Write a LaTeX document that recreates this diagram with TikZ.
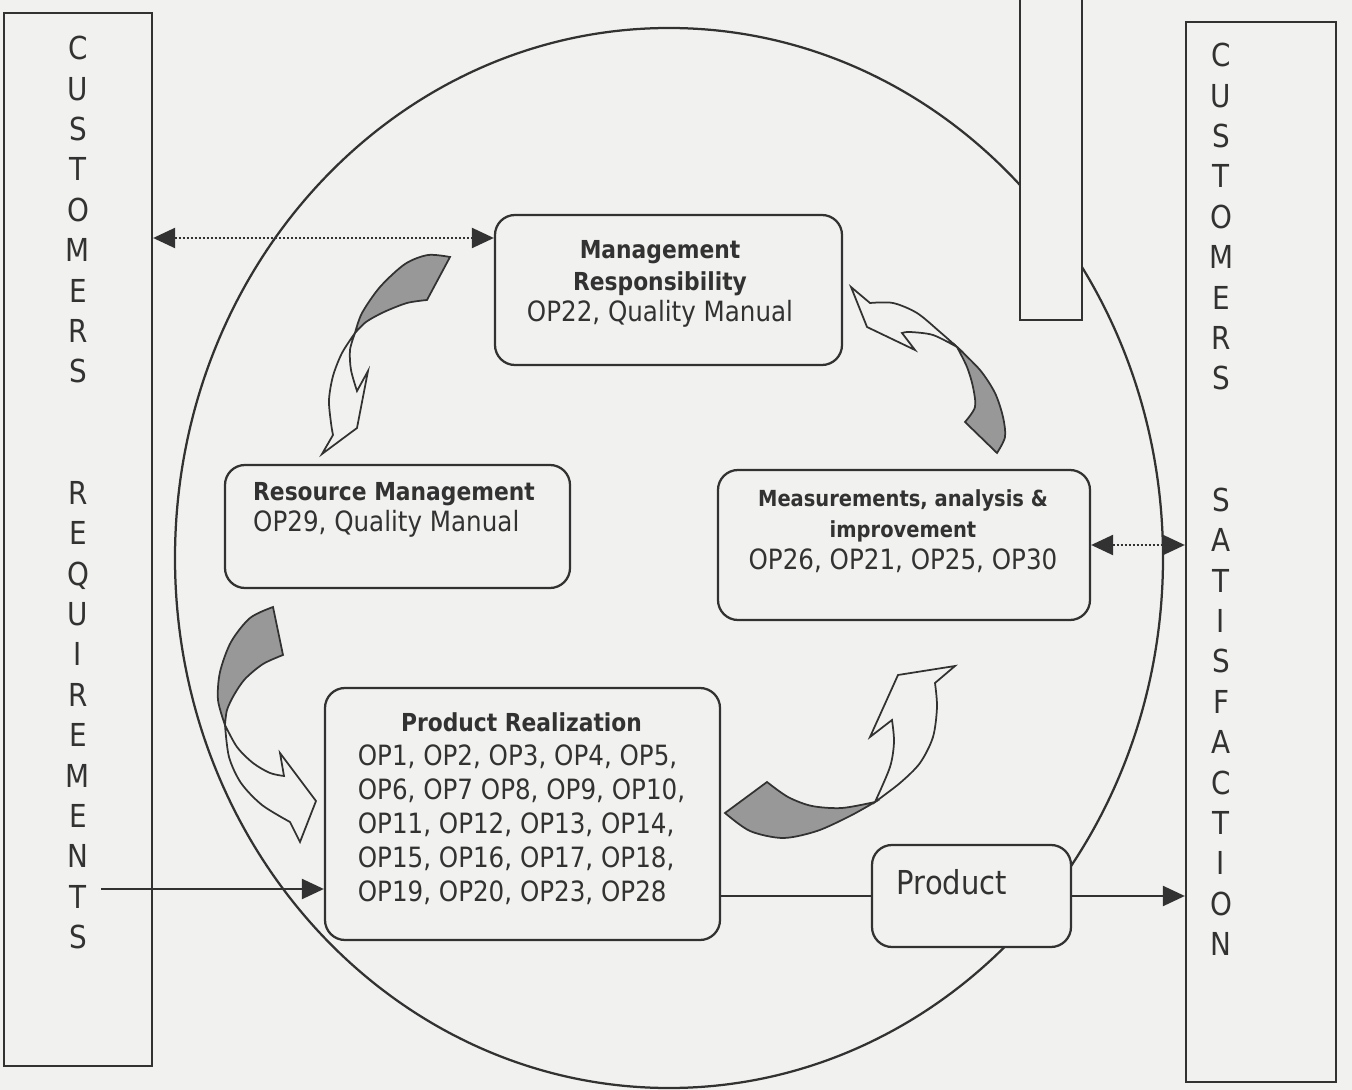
\documentclass[tikz,border=0pt]{standalone}
\usepackage{fontspec}
\setmainfont{DejaVu Sans}[FakeStretch=0.88]
\usetikzlibrary{arrows.meta,positioning}

\definecolor{paper}{RGB}{241,241,239}
\definecolor{ink}{RGB}{50,50,50}
\definecolor{shade}{RGB}{152,152,152}

\newcommand{\boxhead}[1]{{\fontsize{14.1}{17}\selectfont\bfseries #1}}
\newcommand{\smallhead}[1]{{\fontsize{12.6}{15}\selectfont\bfseries #1}}

\begin{document}
\begin{tikzpicture}[x=0.2mm, y=-0.2mm, line width=0.45mm, color=ink,
    procbox/.style={draw, fill=paper, rounded corners=4mm},
    sidebox/.style={draw, fill=paper},
    boxtext/.style={inner sep=0pt, font=\fontsize{15.9}{18}\selectfont},
    vletters/.style={align=center, inner sep=0pt, font=\fontsize{18}{23}\selectfont},
    bandtail/.style={draw, fill=shade, line width=0.35mm},
    bandhead/.style={draw, fill=paper, line width=0.35mm},
    flowarrow/.style={-{Triangle[length=4.4mm,width=4mm]}},
    linkarrow/.style={densely dotted, {Triangle[length=4.4mm,width=4mm]}-{Triangle[length=4.4mm,width=4mm]}}]

    % page
    \useasboundingbox (0,0) rectangle (1352,1090);
    \fill[paper] (0,0) rectangle (1352,1090);
    \clip (0,0) rectangle (1352,1090);

    % big cycle
    \draw (669,558) ellipse [x radius=494, y radius=530];

    % side columns
    \draw[fill=paper] (1020,-20) rectangle (1082,320);
    \node[sidebox, minimum width=29.6mm, minimum height=210.6mm] (req) at (78,539.5) {};
    \node[sidebox, minimum width=30mm, minimum height=212mm] (sat) at (1261,552) {};
    \node[vletters, anchor=north] (reqtxt) at (78,35)
        {C\\U\\S\\T\\O\\M\\E\\R\\S\\~\\~\\R\\E\\Q\\U\\I\\R\\E\\M\\E\\N\\T\\S};
    \node[vletters, anchor=north] (sattxt) at (1221,42)
        {C\\U\\S\\T\\O\\M\\E\\R\\S\\~\\~\\S\\A\\T\\I\\S\\F\\A\\C\\T\\I\\O\\N};

    % process boxes
    \node[procbox, minimum width=69.4mm, minimum height=30mm] (mgmt) at (668.5,290) {};
    \node[procbox, minimum width=69mm, minimum height=24.6mm] (res) at (397.5,526.5) {};
    \node[procbox, minimum width=74.4mm, minimum height=30mm] (meas) at (904,545) {};
    \node[procbox, minimum width=79mm, minimum height=50.4mm] (preal) at (522.5,814) {};
    \node[procbox, minimum width=39.8mm, minimum height=20.4mm] (prod) at (971.5,896) {};

    % box texts
    \node[boxtext, align=center] (mgmttxt) at (660,284)
        {\boxhead{Management}\\\boxhead{Responsibility}\\OP22, Quality Manual};
    \node[boxtext, align=left] (restxt) at (394,510)
        {\boxhead{Resource Management}\\OP29, Quality Manual};
    \node[boxtext, align=center] (meastxt) at (903,531)
        {\smallhead{Measurements, analysis \&}\\\smallhead{improvement}\\OP26, OP21, OP25, OP30};
    \node[boxtext, font=\fontsize{15.9}{19.3}\selectfont] (prealtxt) at (521.5,810)
        {\begin{tabular}{@{}l@{}}
         \multicolumn{1}{@{}c@{}}{\boxhead{Product Realization}}\\
         OP1, OP2, OP3, OP4, OP5,\\
         OP6, OP7 OP8, OP9, OP10,\\
         OP11, OP12, OP13, OP14,\\
         OP15, OP16, OP17, OP18,\\
         OP19, OP20, OP23, OP28
         \end{tabular}};
    \node[boxtext, font=\fontsize{18.75}{22}\selectfont] (prodtxt) at (952,882) {Product};

    % curved arrows of the cycle
    % management -> resources
    \filldraw[bandtail] plot[smooth] coordinates {(450,257) (428,255) (405,264) (380,287) (362,313) (355,333)}
        -- plot[smooth] coordinates {(355,333) (366,322) (384,312) (407,303) (427,300)} -- cycle;
    \filldraw[bandhead] plot[smooth] coordinates {(355,333) (342,353) (333,376) (329,400) (331,423) (333,435)}
        -- (322,454) -- (357,428) -- (368,371) -- (357,391)
        -- plot[smooth] coordinates {(357,391) (351,370) (350,350) (355,333)} -- cycle;
    % resources -> realization
    \filldraw[bandtail] plot[smooth] coordinates {(273,607) (250,618) (231,642) (220,672) (218,700) (225,725)}
        -- plot[smooth] coordinates {(225,725) (227,710) (234,695) (245,679) (263,664) (283,655)} -- cycle;
    \filldraw[bandhead] plot[smooth] coordinates {(225,725) (229,757) (241,783) (262,805) (290,822)}
        -- (300,842) -- (316,801) -- (280,753) -- (284,776)
        -- plot[smooth] coordinates {(284,776) (270,773) (253,763) (237,747) (225,725)} -- cycle;
    % realization -> measurement
    \filldraw[bandtail] plot[smooth] coordinates {(725,813) (750,831) (783,838) (817,831) (850,816) (875,802)}
        -- plot[smooth] coordinates {(875,802) (842,808) (812,806) (788,797) (767,782)} -- cycle;
    \filldraw[bandhead] plot[smooth] coordinates {(875,802) (900,783) (920,763) (933,737) (937,707) (935,683)}
        -- (955,666) -- (898,675) -- (870,737) -- (892,720)
        -- plot[smooth] coordinates {(892,720) (894,742) (890,767) (875,802)} -- cycle;
    % measurement -> management
    \filldraw[bandtail] plot[smooth] coordinates {(957,347) (967,367) (973,387) (975,407) (965,422)}
        -- (997,453) -- plot[smooth] coordinates {(997,453) (1005,437) (1003,417) (995,393) (980,370) (957,347)} -- cycle;
    \filldraw[bandhead] plot[smooth] coordinates {(957,347) (940,332) (917,313) (893,303) (870,303)}
        -- (851,287) -- (867,327) -- (915,350) -- (902,333)
        -- plot[smooth] coordinates {(902,333) (910,332) (933,335) (957,347)} -- cycle;

    % connectors
    \coordinate (toprow) at (0,238);
    \coordinate (reqin) at (101,889);
    \draw[linkarrow] (req.east |- toprow) -- (mgmt.west |- toprow);
    \draw[linkarrow] (meas.east) -- (sat.west |- meas.east);
    \draw[flowarrow] (reqin) -- (preal.west |- reqin);
    \draw (preal.east |- prod.west) -- (prod.west);
    \draw[flowarrow] (prod.east) -- (sat.west |- prod.east);
\end{tikzpicture}
\end{document}
